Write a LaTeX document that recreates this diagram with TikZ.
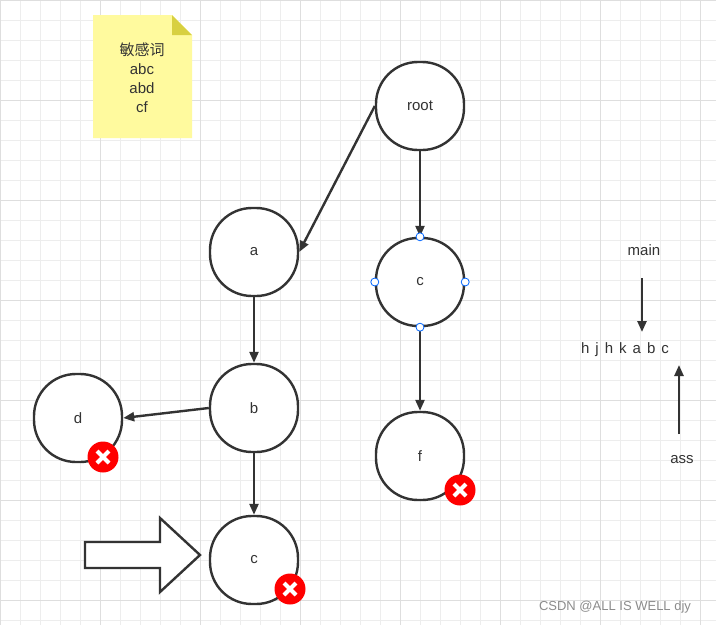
\documentclass[tikz,border=0pt]{standalone}
\usepackage{fontspec}
\setmainfont{Liberation Sans}
\newfontfamily\cjk{Noto Sans CJK SC}
\usetikzlibrary{arrows.meta}
\begin{document}
\begin{tikzpicture}[x=1pt,y=-1pt,
  nd/.style={draw=black!80,line width=2.4pt,fill=white,minimum width=88pt,minimum height=88pt,rounded corners=42pt,font=\fontsize{15}{18}\selectfont,text=black!80},
  ar/.style={-{Triangle[length=11pt,width=9pt]},line width=2.4pt,draw=black!80},
  xm/.style={circle,fill=red,minimum size=31pt,inner sep=0pt},
  hd/.style={circle,draw=blue!60!cyan,fill=white,line width=0.8pt,minimum size=8pt,inner sep=0pt},
  txt/.style={font=\fontsize{15}{19}\selectfont,text=black!80}]
\useasboundingbox (0,0) rectangle (716,625);
\fill[white] (0,0) rectangle (716,625);
\foreach \i in {0,20,...,700} \draw[black!7,line width=0.6pt] (\i,0) -- (\i,625);
\foreach \i in {0,20,...,620} \draw[black!7,line width=0.6pt] (0,\i) -- (716,\i);
\foreach \i in {0,100,...,700} \draw[black!13,line width=0.8pt] (\i,0) -- (\i,625);
\foreach \i in {0,100,...,600} \draw[black!13,line width=0.8pt] (0,\i) -- (716,\i);
% note
\fill[yellow!38] (93,15) -- (172,15) -- (192,35) -- (192,138) -- (93,138) -- cycle;
\fill[olive!50!yellow!70] (172,15) -- (192,35) -- (172,35) -- cycle;
\node[txt,align=center] (note) at (142,78) {{\cjk 敏感词}\\abc\\abd\\cf};
% nodes
\node[nd] (root) at (420,106) {root};
\node[nd] (a) at (254,252) {a};
\node[nd] (c1) at (420,282) {c};
\node[nd] (b) at (254,408) {b};
\node[nd] (d) at (78,418) {d};
\node[nd] (f) at (420,456) {f};
\node[nd] (c2) at (254,560) {c};
\draw[ar] (root.west) -- (a.east);
\draw[ar] (root) -- (c1);
\draw[ar] (c1) -- (f);
\draw[ar] (a) -- (b);
\draw[ar] (b.west) -- (d.east);
\draw[ar] (b) -- (c2);
\foreach \n/\p in {h1/north,h2/south,h3/west,h4/east} \node[hd] (\n) at (c1.\p) {};
% red x marks
\foreach \n/\x/\y in {x1/103/457,x2/460/490,x3/290/589}{
  \node[xm] (\n) at (\x,\y) {};
  \draw[white,line width=4pt] (\x-6,\y-6) -- (\x+6,\y+6) (\x-6,\y+6) -- (\x+6,\y-6);
}
% block arrow
\draw[black!80,line width=2.4pt,fill=white] (85,542) -- (160,542) -- (160,518) -- (200,555) -- (160,592) -- (160,568) -- (85,568) -- cycle;
% right side
\node[txt] (main) at (644,250) {main};
\node[txt] (str) at (625,350) {h\hspace{6pt}j\hspace{6pt}h\hspace{6pt}k\hspace{6pt}a\hspace{6pt}b\hspace{6pt}c};
\node[txt] (ass) at (682,460) {ass};
\coordinate (m1) at (642,278); \coordinate (m2) at (642,332);
\coordinate (s1) at (679,434); \coordinate (s2) at (679,365);
\draw[ar] (m1) -- (m2);
\draw[ar] (s1) -- (s2);
\node[font=\fontsize{13}{15}\selectfont,text=black!45] (wm) at (615,607) {CSDN @ALL IS WELL djy};
\end{tikzpicture}
\end{document}
